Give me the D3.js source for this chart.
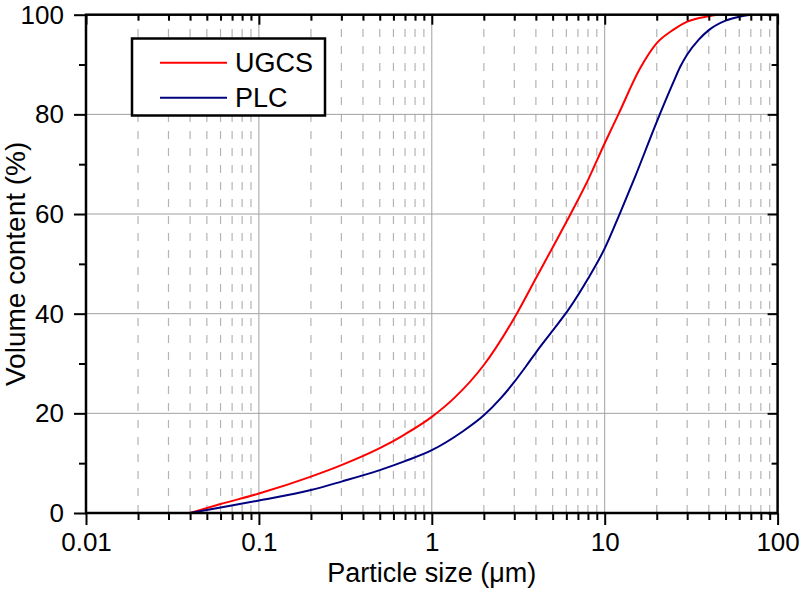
<!DOCTYPE html>
<html>
<head>
<meta charset="utf-8">
<script src="https://cdn.jsdelivr.net/npm/d3@7/dist/d3.min.js"></script>
<style>
  html, body { margin: 0; padding: 0; background: #fff; }
  svg { display: block; }
  text { font-family: "Liberation Sans", Arial, sans-serif; fill: #000; }
</style>
</head>
<body>
<svg id="chart" width="800" height="591"></svg>
<script>
// ---- Data ----
const ugcsSize  = [0.04, 0.06, 0.1, 0.2, 0.3, 0.5, 0.7, 1, 1.36, 2, 3.1, 4, 5, 6.35, 8, 10, 12, 16, 20, 25, 30, 40, 45];
const ugcsValue = [0, 1.8, 3.9, 7.3, 9.6, 13.0, 15.8, 19.3, 23.2, 29.7, 40, 47.1, 53.3, 60, 66.8, 74.2, 80, 89.2, 94.3, 97, 98.6, 99.7, 100];

const plcSize  = [0.04, 0.06, 0.1, 0.2, 0.3, 0.5, 0.7, 1, 1.5, 2, 2.5, 3, 3.5, 4, 5, 6.17, 8, 10, 12.2, 15, 20, 25, 27.3, 30, 35, 40, 50, 60, 70];
const plcValue = [0, 1.1, 2.5, 4.6, 6.3, 8.6, 10.4, 12.6, 16.3, 19.6, 23.0, 26.3, 29.4, 32.2, 36.6, 40.8, 47.0, 53.1, 60, 67.5, 78.5, 86.5, 89.5, 92, 95, 96.9, 98.8, 99.6, 100];

const seriesNames  = ["UGCS", "PLC"];
const seriesColors = ["#ff0000", "#000080"];

const xMajorTicks = [0.01, 0.1, 1, 10, 100];
const xTickLabels = ["0.01", "0.1", "1", "10", "100"];
const yMajorTicks = [0, 20, 40, 60, 80, 100];
const yMinorTicks = [10, 30, 50, 70, 90];
const xTitle = "Particle size (\u03bcm)";
const yTitle = "Volume content (%)";

// ---- Layout ----
const pL = 86, pR = 777.6, pT = 14.7, pB = 513;
const svg = d3.select("#chart");

const x = d3.scaleLog().domain([0.01, 100]).range([pL, pR]);
const y = d3.scaleLinear().domain([0, 100]).range([pB, pT]);

const xMinorTicks = [];
[0.01, 0.1, 1, 10].forEach(d => { for (let k = 2; k <= 9; k++) xMinorTicks.push(+(d * k).toPrecision(3)); });

// ---- Grid ----
const grid = svg.append("g");
grid.selectAll(".vminor").data(xMinorTicks).enter().append("line")
  .attr("x1", d => x(d)).attr("x2", d => x(d))
  .attr("y1", pB).attr("y2", pT)
  .attr("stroke", "#b4b4b4").attr("stroke-width", 1.2)
  .attr("stroke-dasharray", "8,9");
grid.selectAll(".vmajor").data([0.1, 1, 10]).enter().append("line")
  .attr("x1", d => x(d)).attr("x2", d => x(d))
  .attr("y1", pB).attr("y2", pT)
  .attr("stroke", "#a0a0a0").attr("stroke-width", 1);
grid.selectAll(".hmajor").data([20, 40, 60, 80]).enter().append("line")
  .attr("x1", pL).attr("x2", pR)
  .attr("y1", d => y(d)).attr("y2", d => y(d))
  .attr("stroke", "#a0a0a0").attr("stroke-width", 1);

// ---- Curves ----
const line = d3.line().x(d => x(d[0])).y(d => y(d[1])).curve(d3.curveMonotoneX);
const seriesData = [
  d3.zip(ugcsSize, ugcsValue),
  d3.zip(plcSize, plcValue)
];
seriesData.forEach((s, i) => {
  svg.append("path").datum(s)
    .attr("d", line)
    .attr("fill", "none")
    .attr("stroke", seriesColors[i])
    .attr("stroke-width", 2);
});

// ---- Axes ----
function styleAxis(g, showText) {
  g.select(".domain").remove();
  g.selectAll(".tick line").attr("stroke", "#000").attr("stroke-width", 2);
  if (!showText) g.selectAll(".tick text").remove();
}
const bMaj = svg.append("g").attr("transform", `translate(0,${pB})`)
  .call(d3.axisBottom(x).tickValues(xMajorTicks).tickSize(12).tickPadding(8)
    .tickFormat((d, i) => xTickLabels[i]));
styleAxis(bMaj, true);
bMaj.selectAll(".tick text").attr("font-size", 26).attr("font-family", "Liberation Sans, Arial, sans-serif").attr("fill", "#000");
const bMin = svg.append("g").attr("transform", `translate(0,${pB})`)
  .call(d3.axisBottom(x).tickValues(xMinorTicks).tickSize(7));
styleAxis(bMin, false);
const tMaj = svg.append("g").attr("transform", `translate(0,${pT})`)
  .call(d3.axisTop(x).tickValues(xMajorTicks).tickSize(-10));
styleAxis(tMaj, false);
const tMin = svg.append("g").attr("transform", `translate(0,${pT})`)
  .call(d3.axisTop(x).tickValues(xMinorTicks).tickSize(-6));
styleAxis(tMin, false);
const lMaj = svg.append("g").attr("transform", `translate(${pL},0)`)
  .call(d3.axisLeft(y).tickValues(yMajorTicks).tickSize(12).tickPadding(10));
styleAxis(lMaj, true);
lMaj.selectAll(".tick text").attr("font-size", 26).attr("font-family", "Liberation Sans, Arial, sans-serif").attr("fill", "#000");
const lMin = svg.append("g").attr("transform", `translate(${pL},0)`)
  .call(d3.axisLeft(y).tickValues(yMinorTicks).tickSize(7));
styleAxis(lMin, false);
const rMaj = svg.append("g").attr("transform", `translate(${pR},0)`)
  .call(d3.axisRight(y).tickValues(yMajorTicks).tickSize(-10));
styleAxis(rMaj, false);
const rMin = svg.append("g").attr("transform", `translate(${pR},0)`)
  .call(d3.axisRight(y).tickValues(yMinorTicks).tickSize(-6));
styleAxis(rMin, false);

svg.append("rect")
  .attr("x", pL).attr("y", pT)
  .attr("width", pR - pL).attr("height", pB - pT)
  .attr("fill", "none").attr("stroke", "#000").attr("stroke-width", 2.5);

// ---- Axis titles ----
svg.append("text")
  .attr("x", (pL + pR) / 2).attr("y", 582)
  .attr("text-anchor", "middle").attr("font-size", 27)
  .text(xTitle);
svg.append("text")
  .attr("transform", `translate(25,${(pT + pB) / 2}) rotate(-90)`)
  .attr("text-anchor", "middle").attr("font-size", 28)
  .text(yTitle);

// ---- Legend ----
const lg = svg.append("g");
lg.append("rect")
  .attr("x", 132).attr("y", 38.5).attr("width", 193).attr("height", 77)
  .attr("fill", "#fff").attr("stroke", "#000").attr("stroke-width", 2.5);
const legendY = [62.7, 97.7];
seriesNames.forEach((name, i) => {
  lg.append("line")
    .attr("x1", 160).attr("x2", 227)
    .attr("y1", legendY[i]).attr("y2", legendY[i])
    .attr("stroke", seriesColors[i]).attr("stroke-width", 2);
  lg.append("text")
    .attr("x", 235).attr("y", legendY[i] + 9)
    .attr("font-size", 27)
    .text(name);
});
</script>
</body>
</html>
